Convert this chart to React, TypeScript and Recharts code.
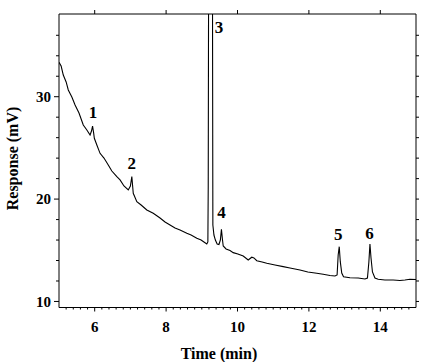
import { LineChart, Line, XAxis, YAxis, ReferenceDot } from "recharts"

const FONT = '"Liberation Serif", "Times New Roman", Times, serif'

// retention time (min) and detector response (mV)
const times = [
  5.0, 5.06, 5.12, 5.2, 5.26, 5.36, 5.45, 5.56, 5.68, 5.78, 5.87, 5.91, 5.94, 5.97, 5.99,
  6.06, 6.15, 6.26, 6.38, 6.48, 6.62, 6.71, 6.82, 6.94, 7.0, 7.04, 7.06, 7.08, 7.18, 7.3,
  7.46, 7.64, 7.83, 7.97, 8.11, 8.25, 8.39, 8.58, 8.7, 8.86, 8.98, 9.06, 9.14, 9.17, 9.18,
  9.2, 9.29, 9.31, 9.34, 9.38, 9.43, 9.48, 9.52, 9.55, 9.58, 9.6, 9.68, 9.79, 9.88, 10.01,
  10.16, 10.3, 10.4, 10.46, 10.54, 10.69, 10.82, 11.05, 11.28, 11.47, 11.75, 11.97, 12.22,
  12.4, 12.59, 12.73, 12.79, 12.82, 12.85, 12.88, 12.92, 12.97, 13.15, 13.38, 13.57, 13.64,
  13.68, 13.71, 13.74, 13.78, 13.85, 13.94, 14.13, 14.36, 14.55, 14.69, 14.83, 15.0,
]
const response = [
  33.36, 33.0, 32.12, 31.44, 30.66, 29.97, 29.19, 28.41, 27.24, 26.75, 26.26, 26.65, 27.14,
  26.46, 25.94, 25.28, 24.47, 24.01, 23.33, 22.74, 22.19, 21.87, 21.28, 20.89, 21.28, 22.21,
  21.38, 20.57, 19.75, 19.42, 18.94, 18.61, 18.15, 17.76, 17.47, 17.18, 16.98, 16.66, 16.49,
  16.17, 16.0, 15.81, 15.61, 15.81, 21.18, 60, 60, 17.47, 16.49, 16.0, 15.61, 15.56, 16.0,
  17.05, 16.0, 15.42, 15.13, 14.98, 14.77, 14.64, 14.44, 14.05, 14.32, 14.25, 13.98, 13.86,
  13.73, 13.56, 13.4, 13.27, 13.08, 12.88, 12.75, 12.66, 12.54, 12.49, 12.59, 14.54, 15.35,
  13.86, 12.78, 12.42, 12.32, 12.29, 12.19, 12.29, 13.86, 15.62, 14.25, 12.88, 12.29, 12.17,
  12.1, 12.1, 12.05, 12.1, 12.17, 12.15,
]

// peak numbers and where their labels sit (time, mV)
const peakNames = ["1", "2", "3", "4", "5", "6"]
const peakLabelTimes = [5.95, 7.04, 9.48, 9.55, 12.82, 13.7]
const peakLabelValues = [28.5, 23.5, 36.8, 18.7, 16.6, 16.7]

const xDomain = [5, 15]
const yDomain = [9.41, 38.08]
const xMajorTicks = [6, 8, 10, 12, 14]
const xMinorTicks = Array.from({ length: 49 }, (_, i) => Number((5.2 + i * 0.2).toFixed(1)))
const yTicks = [10, 12, 14, 16, 18, 20, 22, 24, 26, 28, 30, 32, 34, 36]
const yLabelTicks = [10, 20, 30]

const data = times.map((t, i) => ({ t, v: response[i] }))

const textStyle = { fontFamily: FONT, fontWeight: "bold" as const, fill: "#000" }

function BottomTick({ x, y, payload }: any) {
  const major = xMajorTicks.includes(payload.value)
  return (
    <g>
      <line x1={x} x2={x} y1={y} y2={y + (major ? 4 : 2)} stroke="#000" />
      {major && (
        <text x={x} y={y + 24} textAnchor="middle" fontSize={15} {...textStyle}>
          {payload.value}
        </text>
      )}
    </g>
  )
}

function TopTick({ x, y }: any) {
  return <line x1={x} x2={x} y1={y} y2={y - 4} stroke="#000" />
}

function LeftTick({ x, y, payload }: any) {
  const major = yLabelTicks.includes(payload.value)
  return (
    <g>
      <line x1={x} x2={x - (major ? 5 : 3)} y1={y} y2={y} stroke="#000" />
      {major && (
        <text x={x - 8} y={y} dy="0.35em" textAnchor="end" fontSize={15} {...textStyle}>
          {payload.value}
        </text>
      )}
    </g>
  )
}

function RightTick({ x, y }: any) {
  return <line x1={x} x2={x + 3} y1={y} y2={y} stroke="#000" />
}

export default function App() {
  return (
    <div style={{ position: "absolute", left: 0, top: 0, width: 432, height: 362, background: "#fff" }}>
      <LineChart
        width={432}
        height={362}
        data={data}
        margin={{ top: 6, right: 6, bottom: 14.5, left: 14 }}
      >
        <XAxis
          xAxisId="bottom"
          dataKey="t"
          type="number"
          domain={xDomain}
          ticks={xMinorTicks}
          interval={0}
          height={40}
          allowDataOverflow
          tickLine={false}
          tickSize={0}
          tickMargin={0}
          axisLine={{ stroke: "#000" }}
          tick={<BottomTick />}
          label={() => (
            <text x={219} y={359} textAnchor="middle" fontSize={16} {...textStyle}>
              Time (min)
            </text>
          )}
        />
        <XAxis
          xAxisId="top"
          orientation="top"
          dataKey="t"
          type="number"
          domain={xDomain}
          ticks={xMajorTicks}
          interval={0}
          height={8}
          allowDataOverflow
          tickLine={false}
          tickSize={0}
          tickMargin={0}
          axisLine={{ stroke: "#000" }}
          tick={<TopTick />}
        />
        <YAxis
          yAxisId="left"
          type="number"
          domain={yDomain}
          ticks={yTicks}
          interval={0}
          width={45}
          allowDataOverflow
          tickLine={false}
          tickSize={0}
          tickMargin={0}
          axisLine={{ stroke: "#000" }}
          tick={<LeftTick />}
          label={() => (
            <text
              x={18}
              y={158.5}
              transform="rotate(-90, 18, 158.5)"
              textAnchor="middle"
              fontSize={16}
              {...textStyle}
            >
              Response (mV)
            </text>
          )}
        />
        <YAxis
          yAxisId="right"
          orientation="right"
          type="number"
          domain={yDomain}
          ticks={yTicks}
          interval={0}
          width={10}
          allowDataOverflow
          tickLine={false}
          tickSize={0}
          tickMargin={0}
          axisLine={{ stroke: "#000" }}
          tick={<RightTick />}
        />
        <Line
          xAxisId="bottom"
          yAxisId="left"
          type="linear"
          dataKey="v"
          stroke="#000"
          strokeWidth={1.1}
          dot={false}
          activeDot={false}
          isAnimationActive={false}
        />
        {peakNames.map((name, i) => (
          <ReferenceDot
            key={name}
            xAxisId="bottom"
            yAxisId="left"
            x={peakLabelTimes[i]}
            y={peakLabelValues[i]}
            r={0}
            fill="none"
            stroke="none"
            label={{ value: name, position: "center", fontSize: 17, ...textStyle }}
          />
        ))}
      </LineChart>
    </div>
  )
}
